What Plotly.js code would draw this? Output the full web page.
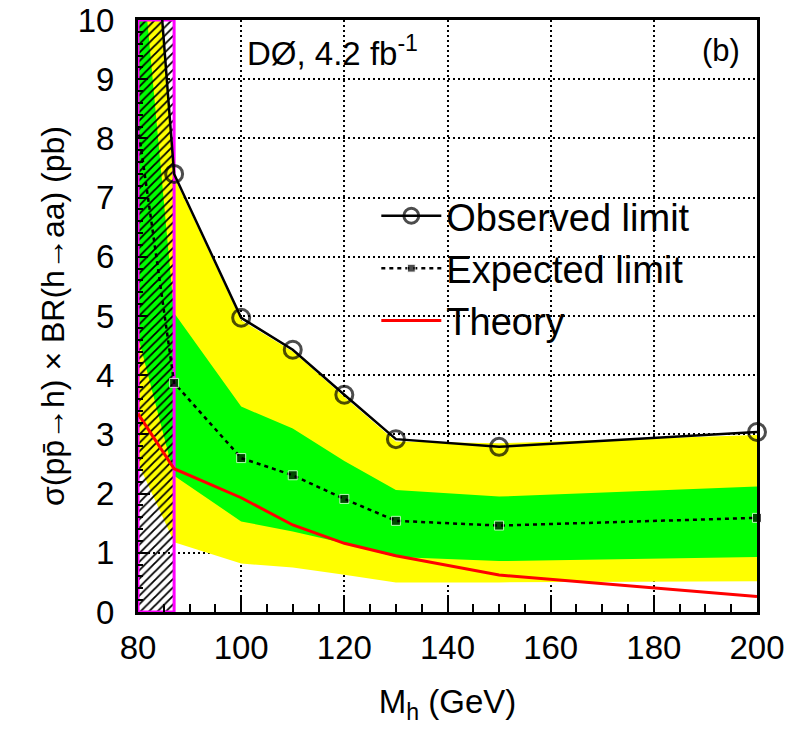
<!DOCTYPE html>
<html>
<head>
<meta charset="utf-8">
<script src="https://cdn.plot.ly/plotly-3.0.1.min.js"></script>
<style>
  html, body { margin: 0; padding: 0; background: #fff; }
  #chart { width: 796px; height: 734px; }
</style>
</head>
<body>
<div id="chart"></div>
<script>
// Higgs boson mass points (GeV)
const massPoints = [80, 87, 100, 110, 120, 130, 150, 200];
// 95% C.L. limits on sigma x BR (pb)
const observedLimit = [15.3, 7.40, 4.97, 4.43, 3.67, 2.92, 2.79, 3.04];
const expectedLimit = [8.2, 3.87, 2.60, 2.31, 1.91, 1.54, 1.46, 1.59];
// expected-limit bands
const band2SigmaLow  = [2.52, 1.18, 0.82, 0.75, 0.63, 0.50, 0.50, 0.52];
const band2SigmaHigh = [15.0, 7.35, 4.93, 4.40, 3.63, 2.88, 2.85, 2.99];
const band1SigmaLow  = [4.66, 2.30, 1.53, 1.36, 1.16, 0.93, 0.86, 0.93];
const band1SigmaHigh = [11.7, 5.05, 3.47, 3.10, 2.55, 2.06, 1.95, 2.12];
// theory prediction (pb)
const theoryXsec = [3.35, 2.42, 1.93, 1.47, 1.16, 0.95, 0.625, 0.26];
// mass window excluded by LEP
const excludedMass = [80, 87];
const excludedSigma = [0, 10];

// no marker on the off-scale first point
const obsMarkerSize = massPoints.map((m, i) => i === 0 ? 0 : 17);
const expMarkerSize = massPoints.map((m, i) => i === 0 ? 0 : 9);

const exclX = [excludedMass[0], excludedMass[1], excludedMass[1], excludedMass[0], excludedMass[0]];
const exclY = [excludedSigma[0], excludedSigma[0], excludedSigma[1], excludedSigma[1], excludedSigma[0]];

const traces = [
  { x: massPoints, y: band2SigmaLow, mode: 'lines', line: { width: 0 }, showlegend: false, hoverinfo: 'skip' },
  { x: massPoints, y: band2SigmaHigh, mode: 'lines', line: { width: 0 }, fill: 'tonexty',
    fillcolor: '#ffff00', showlegend: false, hoverinfo: 'skip' },
  { x: massPoints, y: band1SigmaLow, mode: 'lines', line: { width: 0 }, showlegend: false, hoverinfo: 'skip' },
  { x: massPoints, y: band1SigmaHigh, mode: 'lines', line: { width: 0 }, fill: 'tonexty',
    fillcolor: '#00ff00', showlegend: false, hoverinfo: 'skip' },
  { x: exclX, y: exclY, mode: 'lines', fill: 'toself', fillcolor: 'rgba(0,0,0,0)',
    fillpattern: { shape: '/', fgcolor: '#000000', size: 6, solidity: 0.3 },
    line: { color: '#ff00ff', width: 3 }, showlegend: false, hoverinfo: 'skip' },
  { x: massPoints, y: theoryXsec, mode: 'lines', name: 'Theory',
    line: { color: '#ff0000', width: 3 } },
  { x: massPoints, y: expectedLimit, mode: 'lines+markers', name: 'Expected limit',
    line: { color: '#000000', width: 2.5, dash: '4px,4px' },
    marker: { symbol: 'square', size: expMarkerSize, color: '#000000' },
    cliponaxis: false },
  { x: massPoints, y: observedLimit, mode: 'lines+markers', name: 'Observed limit',
    line: { color: '#000000', width: 2.5 },
    marker: { symbol: 'circle-open', size: obsMarkerSize, color: '#000000', line: { width: 3, color: '#000000' } },
    cliponaxis: false }
];

const axisCommon = {
  ticks: 'inside', tickcolor: '#000', tickwidth: 2,
  showline: true, linecolor: '#000', linewidth: 3, mirror: true,
  showgrid: true, gridcolor: '#000', gridwidth: 2, griddash: '2px,3px',
  zeroline: false, tickfont: { size: 33 }
};

const layout = {
  width: 796, height: 734,
  margin: { l: 138, r: 39, t: 20, b: 122 },
  paper_bgcolor: '#fff', plot_bgcolor: '#fff',
  font: { family: '"Liberation Sans", Arial, sans-serif', color: '#000', size: 30 },
  xaxis: Object.assign({}, axisCommon, {
    range: [80, 200], tick0: 80, dtick: 20, ticklen: 17, ticklabelstandoff: 4,
    minor: { dtick: 5, ticks: 'inside', ticklen: 8, tickwidth: 2, tickcolor: '#000', showgrid: false },
    title: { text: 'M<sub>h</sub> (GeV)', font: { size: 33 }, standoff: 26 }
  }),
  yaxis: Object.assign({}, axisCommon, {
    range: [0, 10], tick0: 0, dtick: 1, ticklen: 10, ticklabelstandoff: 14,
    minor: { dtick: 0.2, ticks: 'inside', ticklen: 5, tickwidth: 2, tickcolor: '#000', showgrid: false },
    title: { text: 'σ(pp\u0304→h) × BR(h→aa) (pb)', font: { size: 32 }, standoff: 4 }
  }),
  legend: {
    x: 0.385, y: 0.722, xanchor: 'left', yanchor: 'top', traceorder: 'reversed',
    bgcolor: 'rgba(0,0,0,0)', font: { size: 38 }, itemwidth: 60
  },
  annotations: [
    { xref: 'paper', yref: 'paper', x: 0.173, y: 0.948, xanchor: 'left', yanchor: 'middle',
      showarrow: false, text: 'DØ, 4.2 fb<sup>-1</sup>', font: { size: 33 } },
    { xref: 'paper', yref: 'paper', x: 0.976, y: 0.948, xanchor: 'right', yanchor: 'middle',
      showarrow: false, text: '(b)', font: { size: 31 } }
  ],
  showlegend: true
};

Plotly.newPlot('chart', traces, layout, { displayModeBar: false, staticPlot: true });
</script>
</body>
</html>
